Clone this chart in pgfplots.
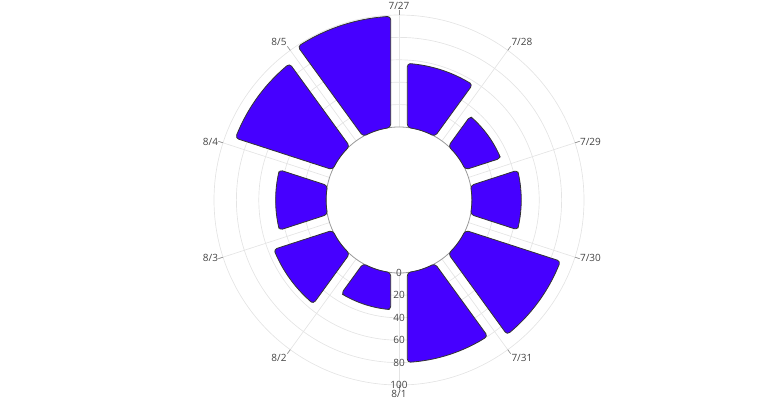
\documentclass[border=0pt]{standalone}
\usepackage{fontspec}
\setmainfont{Open Sans}
\usepackage{pgfplots}
\usepackage{pgfplotstable}
\pgfplotsset{compat=1.18}

\definecolor{barfill}{RGB}{70,0,255}
\definecolor{gridc}{RGB}{228,228,228}
\definecolor{txt}{RGB}{68,68,68}

% dir = compass angle of the bar centre (clockwise from top), value = bar length
\pgfplotstableread{
dir value
18  57
54  33
90  44
126 89
162 80
198 33
234 55
270 45
306 91
342 99
}\bardata

\newcommand\hole{65.18}  % radius of the hole, in value units
\newcommand\gap{7.4}     % half gap between bars, in value units

\newcommand\polarbar[1]{%
  \pgfplotstablegetelem{#1}{dir}\of\bardata \let\bdir\pgfplotsretval
  \pgfplotstablegetelem{#1}{value}\of\bardata \let\bval\pgfplotsretval
  \pgfmathsetmacro\phic{90-\bdir}%
  \pgfmathsetmacro\rout{\hole+\bval}%
  \pgfmathsetmacro\ain{asin(\gap/\hole)}%
  \pgfmathsetmacro\aout{asin(\gap/\rout)}%
  \def\pts{}%
  \pgfplotsforeachungrouped \kk in {0,...,4}{%
    \pgfmathsetmacro\tang{\phic-18+\ain+(36-2*\ain)*\kk/4}%
    \pgfmathsetmacro\bx{\hole*cos(\tang)}%
    \pgfmathsetmacro\by{\hole*sin(\tang)}%
    \edef\pts{\pts(\bx,\by)}%
  }%
  \pgfplotsforeachungrouped \kk in {0,...,12}{%
    \pgfmathsetmacro\tang{\phic+18-\aout-(36-2*\aout)*\kk/12}%
    \pgfmathsetmacro\bx{\rout*cos(\tang)}%
    \pgfmathsetmacro\by{\rout*sin(\tang)}%
    \edef\pts{\pts(\bx,\by)}%
  }%
  \edef\cmd{\noexpand\addplot[fill=barfill, draw=black!80, line width=0.6pt,
    rounded corners=2.5pt] coordinates {\pts} -- cycle;}%
  \cmd
}

\begin{document}
\begin{tikzpicture}[x=1pt,y=1pt, lbl/.style={font=\fontsize{7.5}{9}\selectfont, text=txt, inner sep=1pt}]
\useasboundingbox (0,0) rectangle (588,300);
\coordinate (c) at (299.25,150);

% grid
\foreach \r in {20,40,60,80,100}
  \draw[gridc, line width=0.5pt] (c) circle[radius={(\hole+\r)*0.84}];
\foreach \a in {0,36,...,324}{
  \draw[gridc, line width=0.5pt] ([shift={({90-\a}:{\hole*0.84})}]c) -- ([shift={({90-\a}:{(\hole+100)*0.84})}]c);
  \draw[black!45, line width=0.5pt] ([shift={({90-\a}:{(\hole+100)*0.84})}]c) -- ([shift={({90-\a}:{(\hole+100)*0.84+3.75})}]c);
}
\draw[black!40, line width=0.6pt] (c) circle[radius={\hole*0.84}];

\begin{axis}[
  at={(0,0)}, anchor=south west,
  scale only axis, width=588pt, height=300pt,
  xmin=-356.25, xmax=343.75,
  ymin=-178.571, ymax=178.571,
  hide axis, clip=false]
  \polarbar{0}\polarbar{1}\polarbar{2}\polarbar{3}\polarbar{4}
  \polarbar{5}\polarbar{6}\polarbar{7}\polarbar{8}\polarbar{9}
\end{axis}

% angular labels
\foreach \a/\t/\anc in {0/7\slash 27/south, 36/7\slash 28/south west, 72/7\slash 29/west,
    108/7\slash 30/west, 144/7\slash 31/north west, 180/8\slash 1/north, 216/8\slash 2/north east,
    252/8\slash 3/east, 288/8\slash 4/east, 324/8\slash 5/south east}
  \node[lbl, anchor=\anc] at ([shift={({90-\a}:141.5)}]c) {\t};

% radial tick labels
\foreach \v in {0,20,40,60,80,100}
  \node[lbl] at ([shift={(0,{-(\hole+\v)*0.84})}]c) {\v};
\end{tikzpicture}
\end{document}
